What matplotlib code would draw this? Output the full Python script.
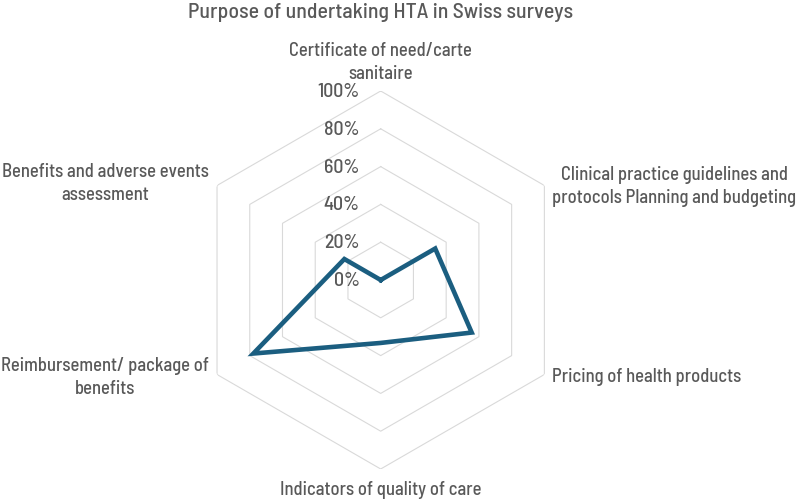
import numpy as np
import matplotlib
matplotlib.use("Agg")
import matplotlib.pyplot as plt

plt.rcParams['font.family'] = ['Barlow Semi Condensed', 'DejaVu Sans']
plt.rcParams['font.weight'] = 'medium'

title = "Purpose of undertaking HTA in Swiss surveys"
categories = [
    "Certificate of need/carte\nsanitaire",
    "Clinical practice guidelines and\nprotocols Planning and budgeting",
    "Pricing of health products",
    "Indicators of quality of care",
    "Reimbursement/ package of\nbenefits",
    "Benefits and adverse events\nassessment",
]
values = [0.0, 0.333, 0.556, 0.333, 0.778, 0.222]
levels = [0.2, 0.4, 0.6, 0.8, 1.0]
level_labels = ["0%", "20%", "40%", "60%", "80%", "100%"]

TEXT = '#595959'
GRID = '#D9D9D9'
LINE = '#1B5E80'

W, H = 800, 502
fig = plt.figure(figsize=(W / 100, H / 100), dpi=100)
cx, cy, R = 380.7, 281.0, 189.0
ax = fig.add_axes([(cx - R) / W, (H - cy - R) / H, 2 * R / W, 2 * R / H], projection='polar')
ax.set_theta_offset(np.pi / 2)
ax.set_theta_direction(-1)
ax.set_ylim(0, 1)
ax.grid(False)
ax.spines['polar'].set_visible(False)
ax.set_xticks([])
ax.set_yticks([])
ax.patch.set_alpha(0)

n = len(categories)
angles = np.linspace(0, 2 * np.pi, n, endpoint=False)
ang_c = np.append(angles, angles[0])

for lv in levels:
    ax.plot(ang_c, [lv] * (n + 1), color=GRID, lw=0.8, zorder=1)

vals_c = np.append(values, values[0])
ax.plot(ang_c, vals_c, color=LINE, lw=3.3, solid_joinstyle='miter', zorder=3)

# radial tick labels
for i, lab in enumerate(level_labels):
    ax.annotate(lab, xy=(0, i * 0.2), xytext=(-21, 0), textcoords='offset pixels',
                ha='right', va='center', fontsize=14.3, color=TEXT, annotation_clip=False)

# category labels
specs = [
    ((0, 9), 'center', 'bottom'),
    ((8, 0), 'left', 'center'),
    ((8, -2), 'left', 'center'),
    ((0, -11), 'center', 'top'),
    ((-8, -2), 'right', 'center'),
    ((-8, 3), 'right', 'center'),
]
for ang, lab, (off, ha, va) in zip(angles, categories, specs):
    ax.annotate(lab, xy=(ang, 1.0), xytext=off, textcoords='offset pixels',
                ha=ha, va=va, multialignment='center', fontsize=13.4, color=TEXT,
                linespacing=1.38, annotation_clip=False)

fig.text(cx / W, 1 - 13 / H, title, ha='center', va='center', fontsize=15.7, color=TEXT)

fig.savefig('out.png', dpi=100)
